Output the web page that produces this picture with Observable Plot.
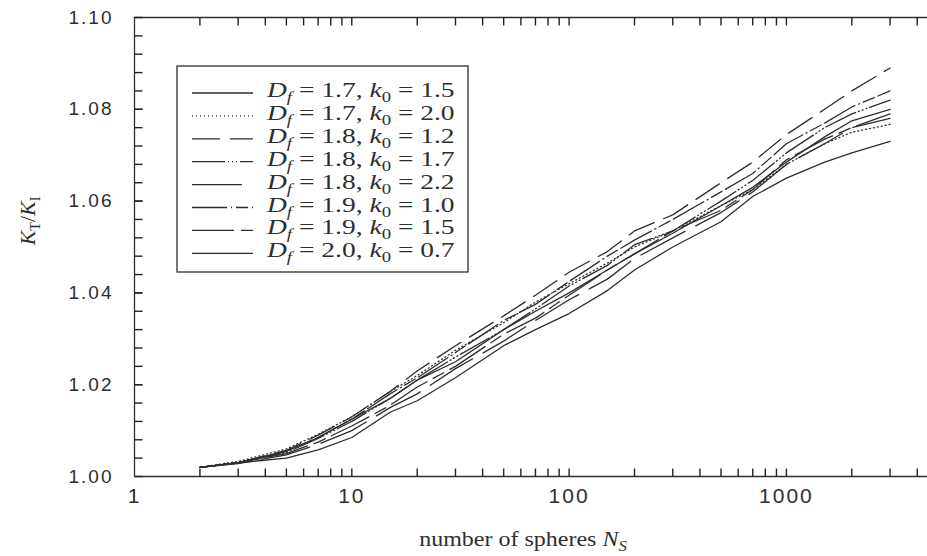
<!DOCTYPE html>
<html><head><meta charset="utf-8">
<script src="https://cdn.jsdelivr.net/npm/d3@7"></script>
<script src="https://cdn.jsdelivr.net/npm/@observablehq/plot@0.6"></script>
<style>
html,body{margin:0;padding:0;background:#fff;}
#chart svg{display:block;}
#chart g[aria-label="x-axis tick label"], #chart g[aria-label="y-axis tick label"]{letter-spacing:2px;}
</style></head><body><div id="chart"></div>
<script>
// number of spheres
const N = [2,3,5,7,10,15,20,30,50,70,100,150,200,300,500,700,1000,1500,2000,3000];
// K_T/K_1 per series
const sDf17k15 = [1.0020,1.0030,1.0055,1.0085,1.0125,1.0170,1.0210,1.0250,1.0320,1.0360,1.0400,1.0450,1.0485,1.0530,1.0590,1.0630,1.0685,1.0740,1.0775,1.0800];
const sDf17k20 = [1.0020,1.0033,1.0060,1.0092,1.0130,1.0185,1.0220,1.0275,1.0335,1.0380,1.0420,1.0465,1.0500,1.0535,1.0590,1.0625,1.0680,1.0725,1.0750,1.0767];
const sDf18k12 = [1.0020,1.0030,1.0057,1.0090,1.0130,1.0185,1.0230,1.0285,1.0350,1.0395,1.0445,1.0490,1.0535,1.0570,1.0640,1.0685,1.0745,1.0800,1.0840,1.0890];
const sDf18k17 = [1.0020,1.0030,1.0052,1.0083,1.0120,1.0170,1.0210,1.0260,1.0320,1.0365,1.0415,1.0460,1.0505,1.0535,1.0600,1.0645,1.0705,1.0760,1.0790,1.0820];
const sDf18k22 = [1.0020,1.0028,1.0047,1.0070,1.0100,1.0150,1.0180,1.0235,1.0295,1.0340,1.0385,1.0430,1.0475,1.0520,1.0575,1.0620,1.0680,1.0725,1.0760,1.0780];
const sDf19k10 = [1.0020,1.0030,1.0055,1.0085,1.0125,1.0180,1.0215,1.0270,1.0340,1.0375,1.0425,1.0480,1.0515,1.0560,1.0620,1.0660,1.0725,1.0770,1.0805,1.0840];
const sDf19k15 = [1.0020,1.0030,1.0050,1.0075,1.0110,1.0155,1.0195,1.0240,1.0310,1.0345,1.0395,1.0450,1.0485,1.0535,1.0580,1.0625,1.0690,1.0735,1.0760,1.0790];
const sDf20k07 = [1.0020,1.0030,1.0040,1.0058,1.0085,1.0140,1.0165,1.0215,1.0285,1.0320,1.0355,1.0405,1.0450,1.0500,1.0555,1.0610,1.0650,1.0685,1.0705,1.0730];
// legend labels
const legendDf = ["1.7","1.7","1.8","1.8","1.8","1.9","1.9","2.0"];
const legendK0 = ["1.5","2.0","1.2","1.7","2.2","1.0","1.5","0.7"];
// ticks
const xTickLabels = [1,10,100,1000];
const xMinorTicks = [2,3,4,5,6,7,8,9,10,20,30,40,50,60,70,80,90,100,200,300,400,500,600,700,800,900,1000,2000,3000,4000];
const yTickLabels = [1.00,1.02,1.04,1.06,1.08,1.10];
const yMinorTicks = [1.004,1.008,1.012,1.016,1.020,1.024,1.028,1.032,1.036,1.040,1.044,1.048,1.052,1.056,1.060,1.064,1.068,1.072,1.076,1.080,1.084,1.088,1.092,1.096];

const seriesValues = [sDf17k15,sDf17k20,sDf18k12,sDf18k17,sDf18k22,sDf19k10,sDf19k15,sDf20k07];
const dashes = [null, "1,3", "28,10", "33,3,1,3,1,3,1,3", "50,12", "35,4,1,4,12,4", "42,7,12,7", null];

const ink = "#2e2e2e";
const lineMarks = seriesValues.map((vals, i) =>
  Plot.line(N.map((n, j) => ({n, v: vals[j]})), {
    x: "n", y: "v", stroke: ink, strokeWidth: 1.3,
    strokeDasharray: dashes[i] || undefined
  })
);

const yMin = 1.0, yMax = 1.10, xMin = 1, xMax = 4460;
const plotH = 556 - 17 - 80, plotW = 927 - 134;
const tickDy = (yMax - yMin) * 8 / plotH;
const tickXEnd = Math.pow(xMax / xMin, 8 / plotW) * xMin;
const allYTicks = yMinorTicks.concat(yTickLabels);

const plot = Plot.plot({
  width: 927, height: 556,
  marginLeft: 134, marginRight: 0, marginTop: 17, marginBottom: 80,
  x: {type: "log", domain: [xMin, xMax]},
  y: {domain: [yMin, yMax]},
  style: {background: "#fff", color: ink, fontFamily: "'Liberation Sans', Arial, sans-serif"},
  marks: [
    Plot.ruleY([yMin, yMax], {stroke: ink, strokeWidth: 1.3}),
    Plot.ruleX([xMin], {stroke: ink, strokeWidth: 1.3}),
    Plot.link(xMinorTicks, {x1: d => d, x2: d => d, y1: yMin, y2: yMin + tickDy, stroke: "#222", strokeWidth: 1.4}),
    Plot.link(xMinorTicks, {x1: d => d, x2: d => d, y1: yMax - tickDy, y2: yMax, stroke: "#222", strokeWidth: 1.4}),
    Plot.link(allYTicks, {x1: xMin, x2: tickXEnd, y1: d => d, y2: d => d, stroke: "#222", strokeWidth: 1.4}),
    Plot.axisX({anchor: "bottom", ticks: xTickLabels, tickSize: 0, tickPadding: 12, tickFormat: d => String(d), fontSize: 21, fill: ink, label: null}),
    Plot.axisY({anchor: "left", ticks: yTickLabels, tickSize: 0, tickPadding: 21, tickFormat: d3.format(".2f"), fontSize: 19, fill: ink, label: null}),
    ...lineMarks
  ]
});
document.getElementById("chart").appendChild(plot);

const svg = d3.select(plot);
const serif = "'Liberation Serif', 'Times New Roman', serif";

// legend
const lg = svg.append("g");
lg.append("rect").attr("x", 177).attr("y", 66).attr("width", 291).attr("height", 206)
  .attr("fill", "#fff").attr("stroke", ink).attr("stroke-width", 1.3);
legendDf.forEach((df, i) => {
  const yl = 93 + i * 22.9;
  const l = lg.append("line").attr("x1", 192).attr("x2", 253).attr("y1", yl).attr("y2", yl)
    .attr("stroke", ink).attr("stroke-width", 1.3);
  if (dashes[i]) l.attr("stroke-dasharray", dashes[i]);
  const t = lg.append("text").attr("transform", `translate(267,${yl + 4}) scale(1.25,1)`)
    .attr("text-anchor", "start")
    .attr("font-family", serif).attr("font-size", 22).attr("fill", ink);
  t.append("tspan").attr("font-style", "italic").text("D");
  t.append("tspan").attr("font-style", "italic").attr("font-size", 15).attr("dy", 5).text("f");
  t.append("tspan").attr("dy", -5).text(" = " + df + ", ");
  t.append("tspan").attr("font-style", "italic").text("k");
  t.append("tspan").attr("font-size", 15).attr("dy", 5).text("0");
  t.append("tspan").attr("dy", -5).text(" = " + legendK0[i]);
});

// y title
const yt = svg.append("text").attr("transform", "translate(35,221) rotate(-90)")
  .attr("text-anchor", "middle").attr("font-family", serif).attr("font-size", 22).attr("fill", ink);
yt.append("tspan").attr("font-style", "italic").text("K");
yt.append("tspan").attr("font-size", 14).attr("dy", 5).text("T");
yt.append("tspan").attr("dy", -5).text("/");
yt.append("tspan").attr("font-style", "italic").text("K");
yt.append("tspan").attr("font-size", 14).attr("dy", 5).text("I");

// x title
const xt = svg.append("text").attr("transform", "translate(523,546) scale(1.2,1)")
  .attr("text-anchor", "middle").attr("font-family", serif).attr("font-size", 20).attr("fill", ink);
xt.append("tspan").text("number of spheres ");
xt.append("tspan").attr("font-style", "italic").text("N");
xt.append("tspan").attr("font-style", "italic").attr("font-size", 14).attr("dy", 5).text("S");
</script>
</body></html>
